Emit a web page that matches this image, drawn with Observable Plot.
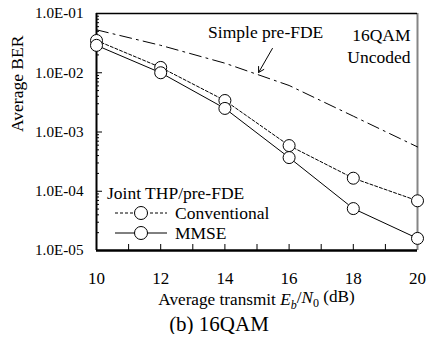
<!DOCTYPE html>
<html><head><meta charset="utf-8">
<script src="https://cdn.jsdelivr.net/npm/d3@7"></script>
<script src="https://cdn.jsdelivr.net/npm/@observablehq/plot@0.6"></script>
<style>
body{margin:0;background:#fff;font-family:"Liberation Serif","Times New Roman",serif}
#cap{width:438px;text-align:center;font-size:21px;line-height:20px;color:#000;font-family:"Liberation Serif","Times New Roman",serif}
svg text{font-family:"Liberation Serif","Times New Roman",serif}
</style>
</head><body><div id="chart"></div><div id="cap">(b) 16QAM</div>
<script>
const snr = [10, 12, 14, 16, 18, 20];
const berSimple = [0.053, 0.029, 0.0145, 0.0061, 0.00185, 0.00056];
const berConv = [0.035, 0.0123, 0.0034, 0.00059, 0.000166, 0.000069];
const berMMSE = [0.029, 0.010, 0.0025, 0.00037, 0.000051, 0.000016];
const yTicks = [1e-1, 1e-2, 1e-3, 1e-4, 1e-5];
const xTicks = [10, 12, 14, 16, 18, 20];
const xMinor = [11, 12, 13, 14, 15, 16, 17, 18, 19];
const yMinor = [];
[1e-5, 1e-4, 1e-3, 1e-2].forEach(d => { for (let k = 2; k <= 9; k++) yMinor.push(k * d); });
const yMajorInner = [1e-2, 1e-3, 1e-4];
const seriesLabels = ["Simple pre-FDE", "Conventional", "MMSE"];
const legendTitle = "Joint THP/pre-FDE";
const arrowData = [{x1: 15.48, y1: 0.0257, x2: 15.05, y2: 0.0101}];
const simpleLabel = [{x: 15.27, y: 0.048, text: "Simple pre-FDE"}];

const simple = snr.map((x, i) => ({x, y: berSimple[i]}));
const conv = snr.map((x, i) => ({x, y: berConv[i]}));
const mmse = snr.map((x, i) => ({x, y: berMMSE[i]}));

const W = 428, H = 314, mL = 96, mR = 11, mT = 13, mB = 64;
const pw = W - mL - mR, ph = H - mT - mB;
const fmt = d => "1.0E-" + String(-Math.round(Math.log10(d))).padStart(2, "0");
const FF = "'Liberation Serif', 'Times New Roman', serif";
const FS = 17.5;

const plot = Plot.plot({
  width: W, height: H,
  marginLeft: mL, marginRight: mR, marginTop: mT, marginBottom: mB,
  style: {fontFamily: FF, fontSize: "15px", background: "white", color: "black"},
  x: {domain: [10, 20]},
  y: {type: "log", domain: [1e-5, 1e-1]},
  marks: [
    Plot.axisY(yTicks, {tickSize: 0, tickPadding: 13, tickFormat: fmt, fontSize: 15.2, label: null}),
    Plot.axisX(xTicks, {tickSize: 0, tickPadding: 21, fontSize: 17, label: null}),
    Plot.ruleY(yMinor, {insetRight: pw - 3, stroke: "black"}),
    Plot.ruleY(yMajorInner, {insetRight: pw - 6, stroke: "black"}),
    Plot.ruleX(xMinor, {insetTop: ph - 6, stroke: "black"}),
    Plot.ruleX([20], {stroke: "#858585", strokeWidth: 2}),
    Plot.ruleY([1e-1], {stroke: "black", strokeWidth: 1.5}),
    Plot.ruleX([10], {stroke: "black", strokeWidth: 2}),
    Plot.ruleY([1e-5], {stroke: "black", strokeWidth: 2.5}),
    Plot.line(simple, {x: "x", y: "y", stroke: "black", strokeWidth: 1, strokeDasharray: "12,5,2,5"}),
    Plot.line(conv, {x: "x", y: "y", stroke: "black", strokeWidth: 1, strokeDasharray: "3,2"}),
    Plot.line(mmse, {x: "x", y: "y", stroke: "black", strokeWidth: 1}),
    Plot.dot(conv, {x: "x", y: "y", r: 6, fill: "white", stroke: "black", strokeWidth: 1}),
    Plot.dot(mmse, {x: "x", y: "y", r: 6, fill: "white", stroke: "black", strokeWidth: 1}),
    Plot.arrow(arrowData, {x1: "x1", y1: "y1", x2: "x2", y2: "y2", stroke: "black", strokeWidth: 1, headLength: 9}),
    Plot.text(simpleLabel, {x: "x", y: "y", text: "text", fontSize: FS, fill: "black"}),
    Plot.text(["16QAM"], {frameAnchor: "top-right", dx: -7, dy: 15, textAnchor: "end", fontSize: FS, fill: "black"}),
    Plot.text(["Uncoded"], {frameAnchor: "top-right", dx: -7, dy: 37, textAnchor: "end", fontSize: FS, fill: "black"}),
    Plot.text(["Average BER"], {frameAnchor: "left", dx: -79, rotate: -90, fontSize: FS, fill: "black"})
  ]
});
document.getElementById("chart").appendChild(plot);

const svg = d3.select(plot);
// x-axis title with italics and subscripts
const xl = svg.append("text").attr("x", mL + pw / 2).attr("y", 299).attr("dy", "0.35em")
  .attr("text-anchor", "middle").attr("font-size", 17.2).attr("fill", "black").attr("font-family", FF);
xl.append("tspan").text("Average transmit ");
xl.append("tspan").attr("font-style", "italic").text("E");
xl.append("tspan").attr("font-style", "italic").attr("font-size", 12).attr("dy", "0.3em").text("b");
xl.append("tspan").attr("dy", "-0.3em").text("/");
xl.append("tspan").attr("font-style", "italic").text("N");
xl.append("tspan").attr("font-size", 12).attr("dy", "0.3em").text("0");
xl.append("tspan").attr("dy", "-0.3em").text(" (dB)");

// legend
const lg = svg.append("g").attr("font-size", FS).attr("fill", "black")
  .attr("text-anchor", "start").attr("font-family", FF);
lg.append("text").attr("x", 107).attr("y", 193).attr("dy", "0.35em").text(legendTitle);
const rows = [{label: seriesLabels[1], y: 213, dash: "3,2"}, {label: seriesLabels[2], y: 233, dash: null}];
rows.forEach(r => {
  lg.append("line").attr("x1", 115).attr("x2", 167).attr("y1", r.y).attr("y2", r.y)
    .attr("stroke", "black").attr("stroke-width", 1).attr("stroke-dasharray", r.dash);
  lg.append("circle").attr("cx", 141).attr("cy", r.y).attr("r", 6.5)
    .attr("fill", "white").attr("stroke", "black");
  lg.append("text").attr("x", 175).attr("y", r.y).attr("dy", "0.35em").text(r.label);
});
</script>
</body></html>
